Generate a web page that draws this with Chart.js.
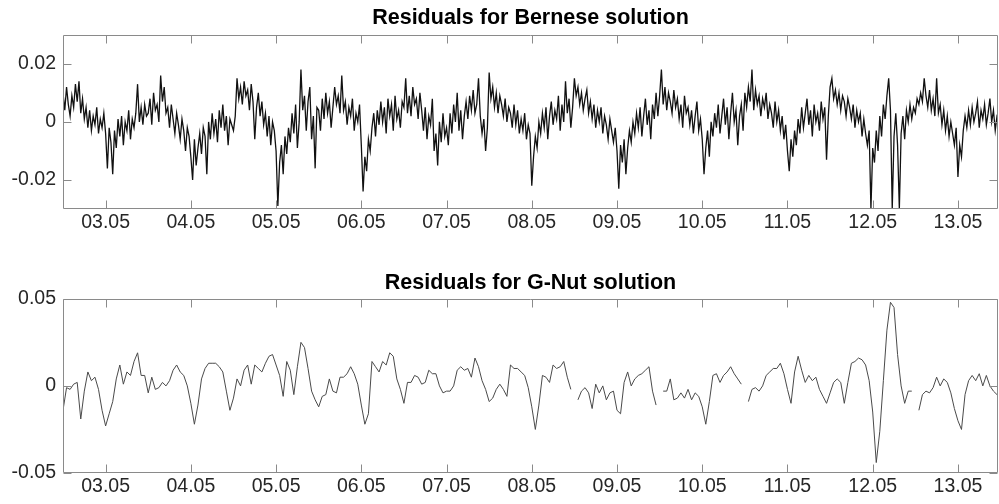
<!DOCTYPE html>
<html>
<head>
<meta charset="utf-8">
<script src="https://cdn.jsdelivr.net/npm/chart.js@4.4.1/dist/chart.umd.min.js"></script>
<style>
  html, body { margin: 0; padding: 0; background: #fff; }
  #wrap { position: relative; width: 999px; height: 504px; }
  canvas { position: absolute; left: 0; }
  #top { top: 0; }
  #bot { top: 252px; }
</style>
</head>
<body>
<div id="wrap">
  <canvas id="top" width="999" height="252"></canvas>
  <canvas id="bot" width="999" height="252"></canvas>
</div>
<script>
const FONT = "'Liberation Sans', Arial, Helvetica, sans-serif";
const X_MIN = 2.5;
const X_MAX = 13.47;

const xTickDays = [3, 4, 5, 6, 7, 8, 9, 10, 11, 12, 13];
const xTickLabels = ["03.05", "04.05", "05.05", "06.05", "07.05", "08.05", "09.05", "10.05", "11.05", "12.05", "13.05"];
const topYTicks = [-0.02, 0, 0.02];
const botYTicks = [-0.05, 0, 0.05];

// Bernese residuals, mm, one value every 30 min from 02.05 12:00
const berneseStart = 2.5;
const berneseStep = 1 / 48;
const berneseMm = [
  10, 4, 12, 6, 2, 9, 5, 13, 7, 14, 3, 8, 1, 5, -2, 4, -3, 2, -1, 5, -4, 1, -2, 3,
  -4, -16, -2, -7, -18, -3, -9, 1, -5, 2, -8, 0, -3, 4, -6, 1, -2, 3, 13, 0, 5, -1, 6, 2,
  3, 8, -1, 10, 4, 6, 0, 16, 7, 12, 3, 5, -2, 6, 1, -4, 3, -1, -6, 1, -3, -10, -2, -5,
  -12, -20, -6, -15, -9, -4, -11, -2, -5, -18, 0, -6, 3, -4, 1, -7, 4, -2, 6, -3, 2, -8, 1, -1,
  -3, 2, 15, 8, 12, 6, 14, 9, 11, 4, 13, 7, -6, 5, 10, 2, 7, -1, 3, -5, 2, -8, 0, -3,
  -10, -29, -14, -8, -18, -5, -11, -2, -7, 3, -4, 6, -9, 0, 18, 4, 9, -3, 7, 12, -6, 2, -16, 5,
  4, -3, 8, 1, 10, 3, 7, -2, 5, 12, 6, 9, 3, 16, 4, 7, -1, 5, 2, 8, -3, 3, 0, 6,
  -8, -24, -12, -17, -6, -10, -2, 3, -5, 4, -1, 7, 0, 5, -4, 8, 2, 6, -3, 9, 1, 4, -2, 7,
  5, 15, 3, 9, 2, 12, 6, 8, 1, 10, 4, -3, 5, -6, 2, -1, 8, -10, -4, -15, 0, -7, 3, -5,
  -2, -8, 3, -4, 6, 0, 10, -3, 4, -6, 2, 7, 1, 9, 4, 11, 3, 6, 15, 2, -4, 1, -10, -2,
  17, 8, 12, 5, 10, 3, 9, 6, 2, 8, 0, 5, 3, -2, 6, -1, 4, -4, 1, -3, 3, -6, -1, -4,
  -22, -12, -5, -9, 0, -4, 3, -2, 5, -6, 2, 7, -1, 4, 1, 9, -3, 6, 0, 14, 3, 8, -2, 5,
  15, 9, 12, 6, 10, 4, 8, 11, 3, 7, 1, 6, -2, 4, 0, 5, -4, 2, -1, -6, 1, -3, -7, -2,
  -10, -23, -8, -14, -6, -18, -9, -3, -7, 0, -4, 3, -2, 5, -5, 2, 8, -1, 4, -6, 6, 1, 10, 2,
  9, 18, 6, 12, 4, 10, 7, 3, 11, 5, 8, 1, 6, -2, 9, 3, 5, -1, 4, -4, 2, 7, -3, 1,
  -6, -18, -9, -3, -12, 0, -5, 3, -2, 6, -4, 2, 8, -1, 5, -6, 3, 10, 0, 4, -8, 2, 6, -3,
  10, 5, 12, 7, 18, 4, 11, 6, 9, 2, 8, 5, 10, 1, 6, 3, -2, 7, 0, 4, -3, 2, -6, -1,
  -10, -17, -6, -12, -3, -8, 1, -4, 5, -2, 3, 8, -1, 4, -5, 6, 0, 3, -3, 7, 1, 5, -13, 2,
  12, 15, 8, 11, 6, 10, 4, 9, 7, 2, 8, 5, 1, 6, -2, 4, 0, 3, -5, 1, -4, -8, -3, -30,
  -9, -14, -3, -10, 2, -5, 6, 1, 9, 15, 4, -30, -5, 3, -8, -30, -4, 2, -6, 4, 0, 6, 1, 5,
  3, 8, 6, 10, 7, 15, 9, 5, 11, 4, 8, 2, 15, 3, 6, -1, 4, -3, 2, -5, 0, -4, -8, -2,
  -19, -8, -12, -3, 2, -2, 4, -1, 5, 0, 3, 7, -2, 4, 1, 6, -1, 3, 8, 0, 4, -3, 2, 1,
  0
];

// G-Nut residuals, mm, hourly from 02.05 12:00 (null = no solution)
const gnutStart = 2.5;
const gnutStep = 1 / 24;
const gnutMm = [
  -14, -1, -2, 1, 2, -19, -3, 8, 3, 5,
  -2, -14, -23, -16, -9, 4, 12, 1, 8, 6,
  14, 19, 6, 6, -4, 5, -2, -1, 2, 0,
  3, 9, 12, 8, 6, 0, -10, -22, -11, 4,
  10, 13, 13, 13, 11, 8, -3, -14, -7, 4,
  0, 9, 12, 1, 12, 10, 8, 13, 17, 18,
  12, 6, -6, 14, 9, -5, 11, 25, 22, 10,
  -3, -8, -12, -6, -5, 4, -3, -4, 5, 5,
  7, 11, 7, 1, -11, -22, -16, 14, 11, 8,
  14, 12, 19, 17, 4, -2, -10, 2, 2, 6,
  5, 1, 2, 9, 7, 7, 0, -4, -3, -3,
  0, 9, 11, 9, 10, 5, 16, 11, 3, -2,
  -9, -7, -2, 1, -2, -6, 12, 10, 10, 8,
  6, -1, -12, -25, -11, 6, 5, 2, 12, 10,
  11, 14, 5, -2, null, -8, -3, -1, -4, -13,
  1, -4, 0, -8, -4, -3, -14, -16, 2, 8,
  0, 4, 6, 7, 9, 11, -3, -11, null, -3,
  -3, 4, -8, -7, -4, -7, -2, -8, -4, -6,
  -12, -22, -9, 6, 7, 2, 6, 8, 11, 7,
  4, 1, null, -9, -2, -1, -3, 0, 6, 8,
  10, 10, 13, 7, -2, -10, 8, 17, 9, 2,
  6, 3, 5, -2, -6, -10, -4, 2, 4, 2,
  -10, 2, 13, 14, 16, 15, 12, 3, -15, -44,
  -26, 3, 32, 48, 45, 18, 0, -10, -3, -3,
  null, -14, -5, -3, -4, -1, 5, 0, 4, 2,
  -4, -13, -20, -25, -5, 3, 6, 3, 7, 0,
  6, 0, -3, -5, -6
];

function toPoints(start, step, mm) {
  return mm.map((v, i) => ({ x: start + i * step, y: v === null ? null : v / 1000 }));
}

// MATLAB-like box with ticks pointing inwards
const boxPlugin = {
  id: 'box',
  afterDatasetsDraw(chart) {
    const { ctx, chartArea: a, scales } = chart;
    const L = 8;
    const l = Math.round(a.left) + 0.5, r = Math.round(a.right) - 0.5;
    const t = Math.round(a.top) + 0.5, b = Math.round(a.bottom) - 0.5;
    ctx.save();
    ctx.strokeStyle = '#8a8a8a';
    ctx.lineWidth = 1;
    ctx.beginPath();
    ctx.rect(l, t, r - l, b - t);
    scales.x.ticks.forEach(tk => {
      const px = Math.round(scales.x.getPixelForValue(tk.value)) + 0.5;
      ctx.moveTo(px, t); ctx.lineTo(px, t + L);
      ctx.moveTo(px, b); ctx.lineTo(px, b - L);
    });
    scales.y.ticks.forEach(tk => {
      const py = Math.round(scales.y.getPixelForValue(tk.value)) + 0.5;
      ctx.moveTo(l, py); ctx.lineTo(l + L, py);
      ctx.moveTo(r, py); ctx.lineTo(r - L, py);
    });
    ctx.stroke();
    ctx.restore();
  }
};

function makeChart(id, title, titlePad, points, yMin, yMax, yTicks, xAxisH, color, width) {
  return new Chart(document.getElementById(id), {
    type: 'line',
    data: {
      datasets: [{
        data: points,
        borderColor: color,
        borderWidth: width,
        pointRadius: 0,
        tension: 0,
        fill: false,
        spanGaps: false
      }]
    },
    options: {
      responsive: false,
      animation: false,
      devicePixelRatio: 1,
      layout: { padding: { left: 0, right: 1, top: 0, bottom: 0 } },
      plugins: {
        legend: { display: false },
        tooltip: { enabled: false },
        title: {
          display: true,
          fullSize: false,
          text: title,
          color: '#000',
          font: { family: FONT, size: 21.5, weight: 'bold' },
          padding: titlePad
        }
      },
      scales: {
        x: {
          type: 'linear',
          min: X_MIN,
          max: X_MAX,
          grid: { display: false, drawTicks: false },
          border: { display: false },
          afterBuildTicks: s => { s.ticks = xTickDays.map(v => ({ value: v })); },
          afterFit: s => { s.height = xAxisH; },
          ticks: {
            autoSkip: false,
            maxRotation: 0,
            padding: 2,
            color: '#262626',
            font: { family: FONT, size: 19.5 },
            callback: (v, i) => xTickLabels[i]
          }
        },
        y: {
          min: yMin,
          max: yMax,
          grid: { display: false, drawTicks: false },
          border: { display: false },
          afterBuildTicks: s => { s.ticks = yTicks.map(v => ({ value: v })); },
          afterFit: s => { s.width = 63; },
          ticks: {
            padding: 7,
            color: '#262626',
            font: { family: FONT, size: 19.5 },
            callback: v => String(v)
          }
        }
      }
    },
    plugins: [boxPlugin]
  });
}

makeChart('top', 'Residuals for Bernese solution', { top: 5, bottom: 4 },
  toPoints(berneseStart, berneseStep, berneseMm), -0.03, 0.03, topYTicks, 43, '#111111', 1.3);
makeChart('bot', 'Residuals for G-Nut solution', { top: 18, bottom: 3 },
  toPoints(gnutStart, gnutStep, gnutMm), -0.05, 0.05, botYTicks, 31, '#4a4a4a', 1);
</script>
</body>
</html>
